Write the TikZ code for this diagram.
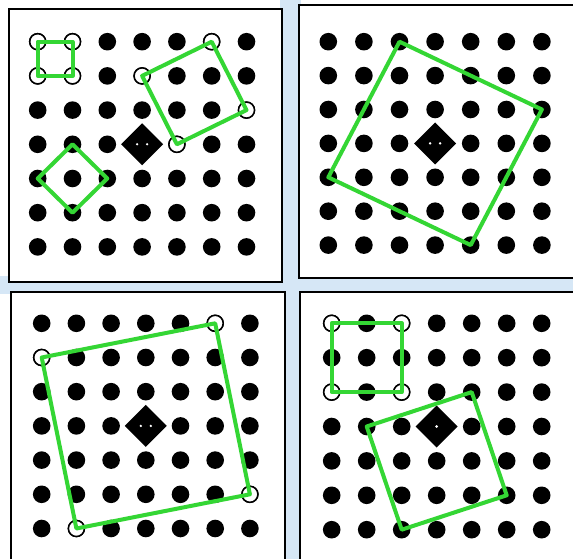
\documentclass[tikz,border=0pt]{standalone}
\definecolor{sqgreen}{RGB}{52,214,52}
\definecolor{gapblue}{RGB}{214,231,246}
\tikzset{
  ring/.style={fill=white, draw=black, line width=1.5pt},
  sq/.style={draw=sqgreen, line width=4pt, line join=round},
  frame/.style={draw=black, line width=2pt, fill=white},
}
\newcommand{\dotgrid}[1]{%
  \foreach \c in {0,...,6}{\foreach \r in {0,...,6}{%
    \coordinate (#1-\c-\r) at (\c,\r);
    \fill (#1-\c-\r) circle (8.8pt);}}}
\newcommand{\diamondat}[1]{%
  \fill (#1) +(-21pt,0) -- +(0,21pt) -- +(21pt,0) -- +(0,-21pt) -- cycle;}
\begin{document}
\begin{tikzpicture}[x=1pt,y=-1pt]
\useasboundingbox (0,0) rectangle (573,559);
\fill[white] (0,0) rectangle (573,559);
\fill[gapblue] (280,0) rectangle (301,559);
\fill[gapblue] (0,276) rectangle (573,294);
% frames
\draw[frame] (9,9) rectangle (282,282);
\draw[frame] (299,5) rectangle (585,278);
\draw[frame] (11,292) rectangle (285,570);
\draw[frame] (300,292) rectangle (585,570);
% panel 1
\begin{scope}[shift={(37.7,41.7)}, x=34.8pt, y=-34.2pt]
  \dotgrid{a}
  \foreach \p in {a-0-0,a-1-0,a-0-1,a-1-1,a-3-1,a-5-0,a-6-2,a-4-3}
    \draw[ring] (\p) circle (8pt);
  \diamondat{a-3-3}
  \fill[white] (a-3-3) +(-5pt,0) circle (1.3pt) +(5pt,0) circle (1.3pt);
  \draw[sq] (a-0-0) -- (a-1-0) -- (a-1-1) -- (a-0-1) -- cycle;
  \draw[sq] (a-3-1) -- (a-5-0) -- (a-6-2) -- (a-4-3) -- cycle;
  \draw[sq] (a-1-3) -- (a-2-4) -- (a-1-5) -- (a-0-4) -- cycle;
\end{scope}
% panel 2
\begin{scope}[shift={(328.3,41.7)}, x=35.6pt, y=-33.9pt]
  \dotgrid{b}
  \diamondat{b-3-3}
  \fill[white] (b-3-3) +(-5pt,0) circle (1.3pt) +(5pt,0) circle (1.3pt);
  \draw[sq] (b-2-0) -- (b-6-2) -- (b-4-6) -- (b-0-4) -- cycle;
\end{scope}
% panel 3
\begin{scope}[shift={(41.7,323.3)}, x=34.7pt, y=-34.2pt]
  \dotgrid{c}
  \foreach \p in {c-0-1,c-5-0,c-6-5,c-1-6}
    \draw[ring] (\p) circle (8pt);
  \diamondat{c-3-3}
  \fill[white] (c-3-3) +(-5pt,0) circle (1.3pt) +(5pt,0) circle (1.3pt);
  \draw[sq] (c-0-1) -- (c-5-0) -- (c-6-5) -- (c-1-6) -- cycle;
\end{scope}
% panel 4
\begin{scope}[shift={(331.7,323.3)}, x=35pt, y=-34.4pt]
  \dotgrid{d}
  \foreach \p in {d-0-0,d-2-0,d-0-2,d-2-2}
    \draw[ring] (\p) circle (8pt);
  \diamondat{d-3-3}
  \fill[white] (d-3-3) circle (1.5pt);
  \draw[sq] (d-0-0) -- (d-2-0) -- (d-2-2) -- (d-0-2) -- cycle;
  \draw[sq] (d-1-3) -- (d-4-2) -- (d-5-5) -- (d-2-6) -- cycle;
\end{scope}
\end{tikzpicture}
\end{document}
